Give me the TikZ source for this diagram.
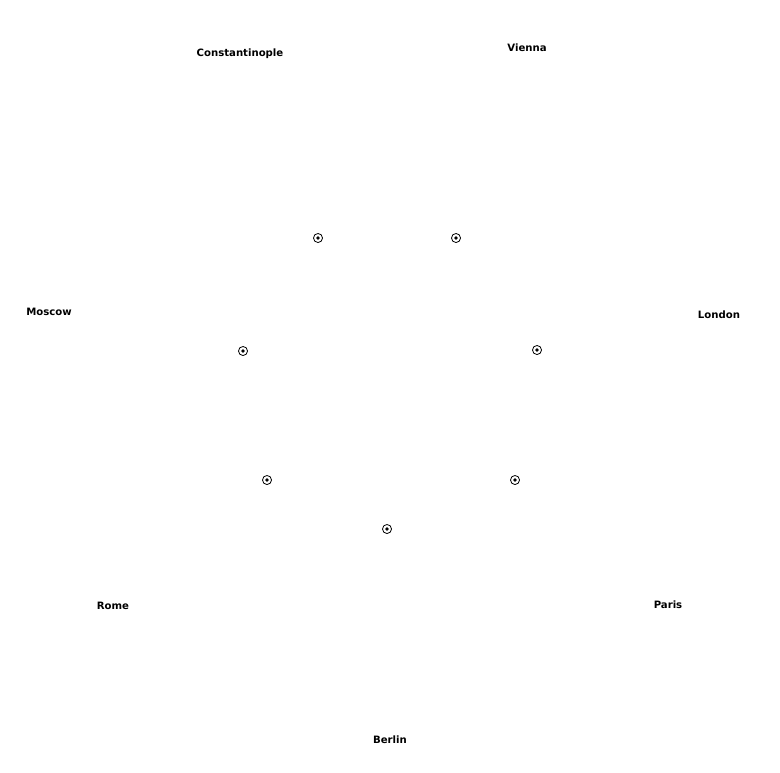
\documentclass[tikz,border=0pt]{standalone}
\usepackage{fontspec}
\setsansfont{DejaVu Sans}
\usetikzlibrary{positioning}

\tikzset{
	city/.style={font=\sffamily\bfseries\fontsize{7.6}{8}\selectfont, inner sep=0.75pt},
	pin/.style={circle, draw, line width=0.6pt, minimum size=6.8pt, inner sep=0pt,
		path picture={\fill (path picture bounding box.center) circle (1.4pt);}}
}

\begin{document}
\begin{tikzpicture}[x=0.75pt,y=0.75pt,yscale=-1,xscale=1]
	\useasboundingbox (0,0) rectangle (780,772);
	
	% Text Node
	\node [city] (constantinople) at (240,54) {Constantinople};
	% Text Node
	\node [city] (vienna) at (527,48) {Vienna};
	% Text Node
	\node [city] (moscow) at (49,312) {Moscow};
	% Text Node
	\node [city] (london) at (719,315) {London};
	% Text Node
	\node [city] (rome) at (113,606) {Rome};
	% Text Node
	\node [city] (paris) at (668,605) {Paris};
	% Text Node
	\node [city] (berlin) at (390,740) {Berlin};
	
	%Shape: Circle
	\node [pin] (p1) at (318,238) {};
	%Shape: Circle
	\node [pin] (p2) at (456,238) {};
	%Shape: Circle
	\node [pin] (p3) at (243,351) {};
	%Shape: Circle
	\node [pin] (p4) at (537,350) {};
	%Shape: Circle
	\node [pin] (p5) at (267,480) {};
	%Shape: Circle
	\node [pin] (p6) at (515,480) {};
	%Shape: Circle
	\node [pin] (p7) at (387,529) {};
	
\end{tikzpicture}
\end{document}
